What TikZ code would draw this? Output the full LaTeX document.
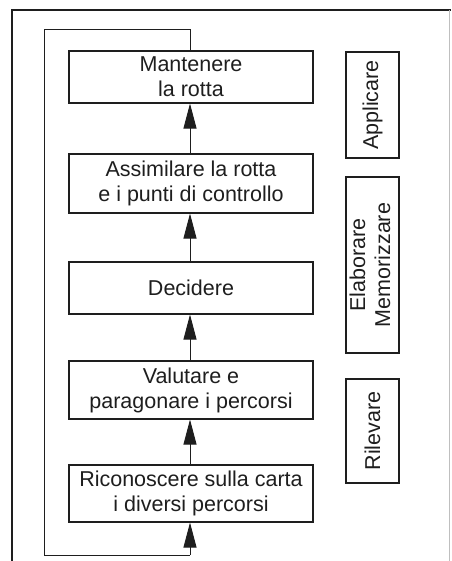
\documentclass[tikz,border=0pt]{standalone}
\usepackage{fontspec}
\setmainfont{Liberation Sans}
\usetikzlibrary{arrows.meta}
\definecolor{ink}{HTML}{1E1E1E}
\tikzset{
  stepbox/.style={draw=ink, line width=1.1pt, minimum width=244pt, inner sep=0pt, align=center, text=ink,
    font=\fontsize{21.5}{25}\selectfont},
  sidebox/.style={draw=ink, line width=1.1pt, minimum width=53pt, inner sep=0pt, align=center, text=ink,
    font=\fontsize{21.5}{25}\selectfont},
  flow/.style={draw=ink, line width=0.9pt, -{Triangle[length=25pt,width=13pt]}},
  loopline/.style={draw=ink, line width=0.9pt},
}
\begin{document}
\begin{tikzpicture}[x=1pt,y=-1pt]
\useasboundingbox (0,0) rectangle (451,561);
% frame
\draw[ink, line width=1.5pt] (12,561) -- (12,10) -- (451,10);
\draw[black!25, line width=0.6pt] (449,10) -- (449,561);
% step boxes
\node[stepbox, minimum height=52pt] (b1) at (191,77) {Mantenere\\la rotta};
\node[stepbox, minimum height=59pt] (b2) at (191,183.5) {Assimilare la rotta\\e i punti di controllo};
\node[stepbox, minimum height=52pt] (b3) at (191,288) {Decidere};
\node[stepbox, minimum height=58pt] (b4) at (191,390) {Valutare e\\paragonare i percorsi};
\node[stepbox, minimum height=57pt] (b5) at (191,493.5) {Riconoscere sulla carta\\i diversi percorsi};
% side boxes
\node[sidebox, minimum height=106pt] (s1) at (372.5,105) {\rotatebox{90}{Applicare}};
\node[sidebox, minimum height=176pt] (s2) at (372.5,265) {\rotatebox{90}{\begin{tabular}{@{}c@{}}Elaborare\\Memorizzare\end{tabular}}};
\node[sidebox, minimum height=104pt] (s3) at (372.5,431) {\rotatebox{90}{Rilevare}};
% arrows
\draw[flow] (b2.north -| 190,0) -- (b1.south -| 190,0);
\draw[flow] (b3.north -| 190,0) -- (b2.south -| 190,0);
\draw[flow] (b4.north -| 190,0) -- (b3.south -| 190,0);
\draw[flow] (b5.north -| 190,0) -- (b4.south -| 190,0);
% loop
\coordinate (lt) at (44,29);
\coordinate (lb) at (44,555);
\draw[loopline] (b1.north -| 190,0) -- (190,29) -- (lt) -- (lb) -- (190,555);
\draw[flow] (190,555) -- (b5.south -| 190,0);
\end{tikzpicture}
\end{document}
